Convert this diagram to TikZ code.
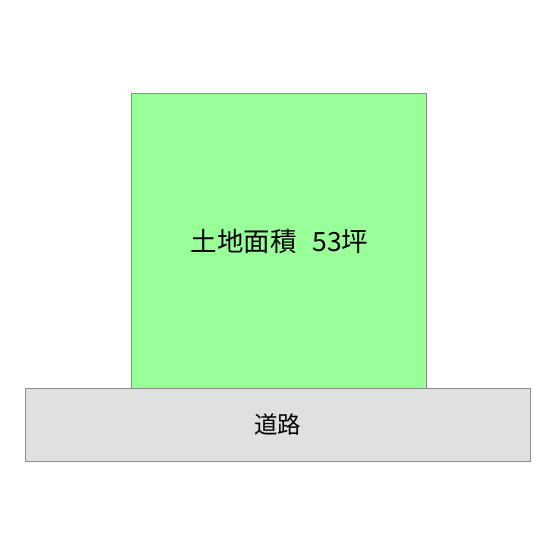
\documentclass[tikz,border=0pt]{standalone}
\usepackage{fontspec}
\newfontfamily\cjk{Noto Sans CJK JP}
\definecolor{landgreen}{HTML}{99FF99}
\definecolor{roadgray}{HTML}{E0E0E0}
\definecolor{edgegray}{HTML}{8C8C8C}
\tikzset{
  lot/.style={fill=landgreen,draw=edgegray,line width=0.8pt},
  road/.style={fill=roadgray,draw=edgegray,line width=0.8pt},
  lbl/.style={font=\cjk\fontsize{26.5}{29}\selectfont,text=black,inner sep=0pt}
}
\begin{document}
\begin{tikzpicture}[x=1pt,y=-1pt]
\useasboundingbox (0,0) rectangle (555,555);
\fill[white] (0,0) rectangle (555,555);
\draw[lot] (131,93) rectangle (426,388);
\draw[road] (25,388) rectangle (530,461);
\node[lbl] (land) at (279.5,241) {土地面積\hspace{0.6em}53坪};
\node[lbl,font=\cjk\fontsize{23.5}{26}\selectfont] (roadlbl) at (277.5,425) {道路};
\end{tikzpicture}
\end{document}
